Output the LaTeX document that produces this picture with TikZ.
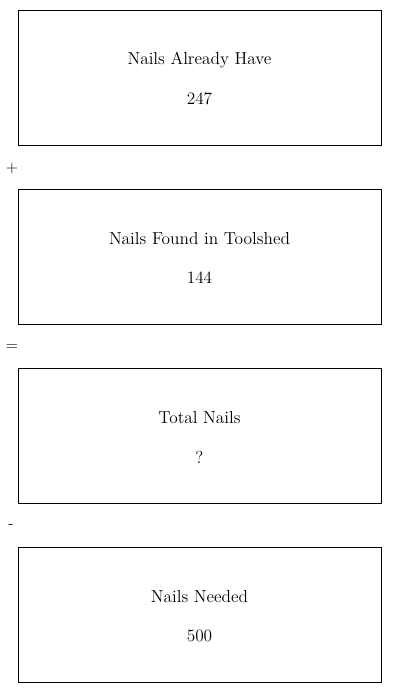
\documentclass[tikz,border=0pt]{standalone}
\usepackage{tikz}
\usetikzlibrary{positioning}
\tikzset{
  caja/.style={draw=black,line width=0.6pt,minimum width=272.25pt,minimum height=101.25pt,inner sep=0pt},
  rotulo/.style={font=\fontsize{13}{15}\selectfont,inner sep=0pt},
  signo/.style={font=\fontsize{12}{14}\selectfont,inner sep=0pt},
}

\begin{document}
\begin{tikzpicture}[x=0.75pt,y=0.75pt]
\useasboundingbox (0,0) rectangle (400,693);
\node[caja] (caja1) at (199.5,615.5) {};
\node[caja] (caja2) at (199.5,436.5) {};
\node[caja] (caja3) at (199.5,257.5) {};
\node[caja] (caja4) at (199.5,78.5) {};
\node[rotulo] (tit1) at (199.5,633) {Nails Already Have};
\node[rotulo] (val1) at (199.5,594) {247};
\node[rotulo] (tit2) at (199.5,454) {Nails Found in Toolshed};
\node[rotulo] (val2) at (199.5,415) {144};
\node[rotulo] (tit3) at (199.5,275) {Total Nails};
\node[rotulo] (val3) at (199.5,236) {?};
\node[rotulo] (tit4) at (199.5,96) {Nails Needed};
\node[rotulo] (val4) at (199.5,57) {500};
\node[signo] (mas) at (12,524) {+};
\node[signo] (igual) at (12,345) {=};
\node[signo] (menos) at (11,166) {-};
\end{tikzpicture}
\end{document}
